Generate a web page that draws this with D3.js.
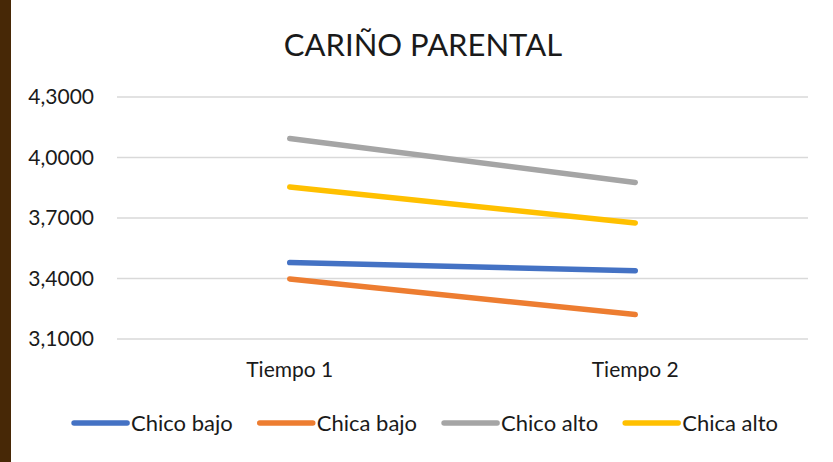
<!DOCTYPE html>
<html>
<head>
<meta charset="utf-8">
<script src="https://cdn.jsdelivr.net/npm/d3@7"></script>
<style>
  body { margin: 0; background: #fff; }
  text { font-family: Lato, "Open Sans", sans-serif; fill: #1a1a1a; }
  .grid line { stroke: #d9d9d9; stroke-width: 1.5px; }
</style>
</head>
<body>
<div id="chart"></div>
<script>
// datos
var categories = ["Tiempo 1", "Tiempo 2"];
var series = ["Chico bajo", "Chica bajo", "Chico alto", "Chica alto"];
var chicoBajo = [3.479, 3.439];
var chicaBajo = [3.398, 3.221];
var chicoAlto = [4.094, 3.876];
var chicaAlto = [3.854, 3.675];
var yTicks = [3.1, 3.4, 3.7, 4.0, 4.3];
var colors = ["#4472C4", "#ED7D31", "#A5A5A5", "#FFC000"];

var values = [chicoBajo, chicaBajo, chicoAlto, chicaAlto];

var W = 833, H = 462;
var svg = d3.select("#chart").append("svg").attr("width", W).attr("height", H);

svg.append("rect").attr("width", W).attr("height", H).attr("fill", "#fff");
// franja marron a la izquierda
svg.append("rect").attr("x", 0).attr("y", 0).attr("width", 11).attr("height", H).attr("fill", "#472806");

var margin = {left: 117, right: 25, top: 97, bottom: 123};

var x = d3.scalePoint().domain(categories)
  .range([margin.left, W - margin.right]).padding(0.5);
var y = d3.scaleLinear().domain([3.1, 4.3])
  .range([H - margin.bottom, margin.top]);

svg.append("text")
  .attr("x", 423).attr("y", 45)
  .attr("text-anchor", "middle").attr("dy", "0.35em")
  .style("font-size", "31px")
  .text("CARIÑO PARENTAL");

// lineas de cuadricula
svg.append("g").attr("class", "grid")
  .selectAll("line").data(yTicks).join("line")
  .attr("x1", margin.left).attr("x2", W - margin.right)
  .attr("y1", d => y(d)).attr("y2", d => y(d));

var fmt = d3.format(".4f");
svg.append("g").selectAll("text").data(yTicks).join("text")
  .attr("x", 94).attr("y", d => y(d))
  .attr("dy", "0.35em").attr("text-anchor", "end")
  .style("font-size", "21px")
  .text(d => fmt(d).replace(".", ","));

svg.append("g").selectAll("text").data(categories).join("text")
  .attr("x", d => x(d)).attr("y", H - margin.bottom + 31)
  .attr("dy", "0.35em").attr("text-anchor", "middle")
  .style("font-size", "21px")
  .text(d => d);

var line = d3.line().x((d, i) => x(categories[i])).y(d => y(d));

svg.append("g").selectAll("path").data(values).join("path")
  .attr("d", d => line(d))
  .attr("fill", "none")
  .attr("stroke", (d, i) => colors[i])
  .attr("stroke-width", 5.5)
  .attr("stroke-linecap", "round");

// leyenda
var leg = svg.append("g");
var items = leg.selectAll("g").data(series).join("g");
items.append("line")
  .attr("x1", 0).attr("x2", 53).attr("y1", 0).attr("y2", 0)
  .attr("stroke", (d, i) => colors[i])
  .attr("stroke-width", 5.5).attr("stroke-linecap", "round");
items.append("text")
  .attr("x", 57).attr("dy", "0.35em")
  .style("font-size", "22px")
  .text(d => d);

var pos = 0;
items.each(function() {
  var w = this.getBBox().width;
  d3.select(this).attr("transform", "translate(" + pos + ",0)");
  pos += w + 27;
});
var total = pos - 27;
leg.attr("transform", "translate(" + (426 - total / 2) + ",423)");
</script>
</body>
</html>
